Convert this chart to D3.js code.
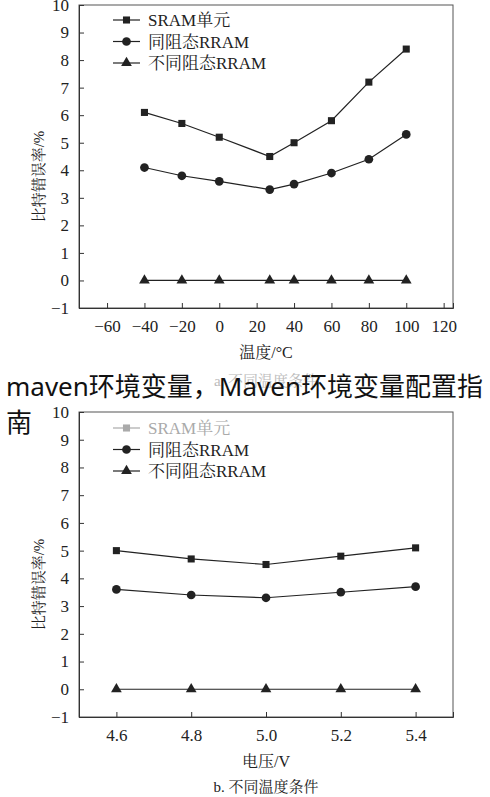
<!DOCTYPE html>
<html><head><meta charset="utf-8">
<script src="https://cdn.jsdelivr.net/npm/d3@7"></script>
<style>body{margin:0;background:#fff}svg{display:block}</style>
</head><body>
<script>
const tempX = [-40, -20, 0, 27, 40, 60, 80, 100];
const tempSram = [6.1, 5.7, 5.2, 4.5, 5.0, 5.8, 7.2, 8.4];
const tempSame = [4.1, 3.8, 3.6, 3.3, 3.5, 3.9, 4.4, 5.3];
const tempDiff = [0, 0, 0, 0, 0, 0, 0, 0];
const tempTicks = [-60, -40, -20, 0, 20, 40, 60, 80, 100, 120];
const voltX = [4.6, 4.8, 5.0, 5.2, 5.4];
const voltSram = [5.0, 4.7, 4.5, 4.8, 5.1];
const voltSame = [3.6, 3.4, 3.3, 3.5, 3.7];
const voltDiff = [0, 0, 0, 0, 0];
const voltTicks = [4.6, 4.8, 5.0, 5.2, 5.4];
const yTicks = [-1, 0, 1, 2, 3, 4, 5, 6, 7, 8, 9, 10];
const legendNames = ["SRAM单元", "同阻态RRAM", "不同阻态RRAM"];

const W = 490, H = 797;
const svg = d3.select("body").append("svg").attr("width", W).attr("height", H);
const serif = "'Liberation Serif','Times New Roman','Noto Serif CJK SC','Noto Sans CJK SC',serif";
const ink = "#222";

function fmtNum(v){ return String(v).replace("-", "\u2212"); }

function panel(cfg){
  const g = svg.append("g");
  const L = 79, R = 453;
  const x = d3.scaleLinear().domain(cfg.xDomain).range([L, R]);
  const y = d3.scaleLinear().domain([-1, 10]).range([cfg.bottom, cfg.top]);
  g.append("rect").attr("x", L).attr("y", cfg.top).attr("width", R - L).attr("height", cfg.bottom - cfg.top)
    .attr("fill", "none").attr("stroke", "#555").attr("stroke-width", 1);
  const ya = g.append("g").attr("transform", `translate(${L},0)`)
    .call(d3.axisLeft(y).tickValues(yTicks).tickSize(-5).tickPadding(10).tickFormat(fmtNum));
  const xa = g.append("g").attr("transform", `translate(0,${cfg.bottom})`)
    .call(d3.axisBottom(x).tickValues(cfg.xTicks).tickSize(-5).tickPadding(12).tickFormat(cfg.fmt));
  [ya, xa].forEach(a => {
    a.attr("font-family", null).attr("font-size", null);
    a.select(".domain").attr("stroke", "#333");
    a.selectAll(".tick line").attr("stroke", "#333");
    a.selectAll("text").style("font-family", serif).style("font-size", "17px").attr("fill", ink);
  });
  const series = [
    {vals: cfg.sram, sym: d3.symbolSquare, size: 50},
    {vals: cfg.same, sym: d3.symbolCircle, size: 60},
    {vals: cfg.diff, sym: d3.symbolTriangle, size: 50}
  ];
  const line = d3.line().x(d => x(d[0])).y(d => y(d[1]));
  series.forEach(s => {
    const pts = cfg.xs.map((v, i) => [v, s.vals[i]]);
    g.append("path").attr("d", line(pts)).attr("fill", "none").attr("stroke", ink).attr("stroke-width", 1.2);
    g.selectAll(null).data(pts).enter().append("path")
      .attr("d", d3.symbol().type(s.sym).size(s.size))
      .attr("transform", d => `translate(${x(d[0])},${y(d[1])})`).attr("fill", ink);
  });
  legendNames.forEach((n, i) => {
    const ly = cfg.legY + i * 21.5;
    const col = (cfg.greyFirst && i === 0) ? "#aaa" : ink;
    g.append("line").attr("x1", 113).attr("x2", 140).attr("y1", ly).attr("y2", ly).attr("stroke", col).attr("stroke-width", 1.2);
    g.append("path").attr("d", d3.symbol().type(series[i].sym).size(series[i].size))
      .attr("transform", `translate(126.5,${ly})`).attr("fill", col);
    g.append("text").attr("x", 148).attr("y", ly + 6).text(n)
      .style("font-family", serif).style("font-size", "17px").attr("fill", col);
  });
  g.append("text").attr("transform", `translate(44,${(cfg.top + cfg.bottom) / 2 + 20}) rotate(-90)`)
    .attr("text-anchor", "middle").style("font-family", serif).style("font-size", "15px").attr("fill", ink).text("比特错误率/%");
  g.append("text").attr("x", 266).attr("y", cfg.xTitleY).attr("text-anchor", "middle")
    .style("font-family", serif).style("font-size", "16px").attr("fill", ink).text(cfg.xTitle);
  g.append("text").attr("x", 266).attr("y", cfg.capY).attr("text-anchor", "middle")
    .style("font-family", serif).style("font-size", "15px").attr("fill", cfg.capCol).text(cfg.cap);
}

panel({xDomain: [-75, 125], xTicks: tempTicks, fmt: fmtNum, xs: tempX, sram: tempSram, same: tempSame, diff: tempDiff,
  top: 5, bottom: 308, legY: 20, xTitle: "温度/°C", xTitleY: 358, cap: "a. 不同温度条件", capY: 386, capCol: "#bbb"});
panel({xDomain: [4.5, 5.5], xTicks: voltTicks, fmt: d3.format(".1f"), xs: voltX, sram: voltSram, same: voltSame, diff: voltDiff,
  top: 412, bottom: 717, legY: 428, greyFirst: true, xTitle: "电压/V", xTitleY: 767, cap: "b. 不同温度条件", capY: 792, capCol: ink});

const head = svg.append("text").style("font-family", "'Noto Sans','Noto Sans CJK SC',sans-serif")
  .style("font-size", "26px").attr("fill", "#111");
head.append("tspan").attr("x", 6).attr("y", 396).text("maven环境变量，Maven环境变量配置指");
head.append("tspan").attr("x", 6).attr("y", 432).text("南");
</script>
</body></html>
